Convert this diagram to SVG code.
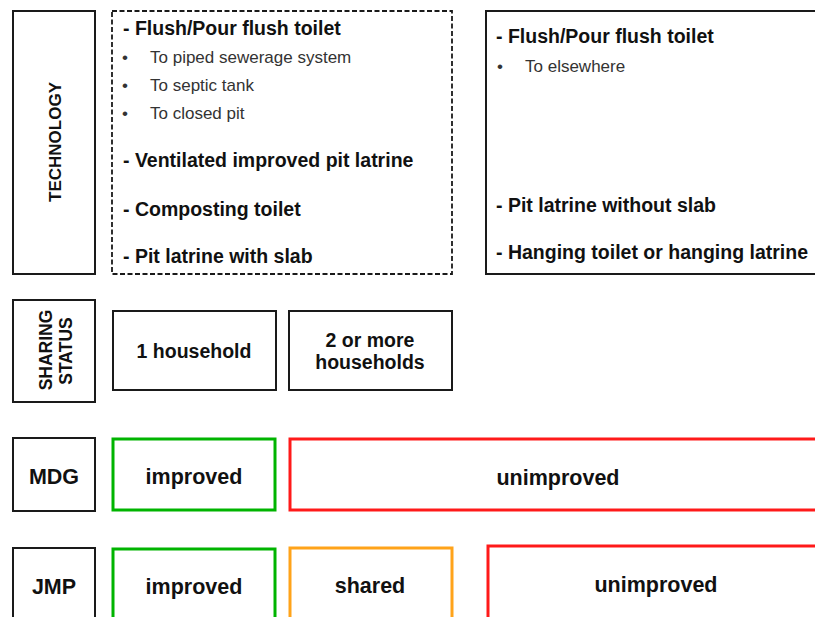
<svg xmlns="http://www.w3.org/2000/svg" width="815" height="617" viewBox="0 0 815 617">
<style>
.b{fill:none;stroke:#1a1a1a;stroke-width:2}
.d{fill:none;stroke:#1a1a1a;stroke-width:1.8;stroke-dasharray:5,2.5}
.g{fill:none;stroke:#00b400;stroke-width:3}
.r{fill:none;stroke:#ff1a1a;stroke-width:3}
.o{fill:none;stroke:#ffa31a;stroke-width:3}
text{font-family:"Liberation Sans",Arial,sans-serif;fill:#111}
.h{font-weight:bold;font-size:19.5px}
.s{font-size:17px;fill:#333}
.l{font-weight:bold;font-size:17px;text-anchor:middle}
.c{font-weight:bold;font-size:21.5px;text-anchor:middle}
.m{font-weight:bold;font-size:19.5px;text-anchor:middle}
</style>
<rect width="815" height="617" fill="#fff"/>
<g id="technology">
<rect class="b" x="13" y="11" width="82" height="263"/>
<text class="l" transform="translate(61,142) rotate(-90)">TECHNOLOGY</text>
</g>
<g id="improved-tech">
<rect class="d" x="112" y="11" width="340" height="263"/>
<text class="h" x="123" y="35">- Flush/Pour flush toilet</text>
<text class="s" x="122" y="63">•</text><text class="s" x="150" y="63">To piped sewerage system</text>
<text class="s" x="122" y="91">•</text><text class="s" x="150" y="91">To septic tank</text>
<text class="s" x="122" y="119">•</text><text class="s" x="150" y="119">To closed pit</text>
<text class="h" x="123" y="167">- Ventilated improved pit latrine</text>
<text class="h" x="123" y="216">- Composting toilet</text>
<text class="h" x="123" y="263">- Pit latrine with slab</text>
</g>
<g id="unimproved-tech">
<rect class="b" x="486" y="11" width="340" height="263"/>
<text class="h" x="496" y="43">- Flush/Pour flush toilet</text>
<text class="s" x="497" y="72">•</text><text class="s" x="525" y="72">To elsewhere</text>
<text class="h" x="496" y="212">- Pit latrine without slab</text>
<text class="h" x="496" y="259">- Hanging toilet or hanging latrine</text>
</g>
<g id="sharing">
<rect class="b" x="13" y="300" width="82" height="102"/>
<text class="l" transform="translate(52,350) rotate(-90)" style="font-size:17.5px">SHARING</text>
<text class="l" transform="translate(72,351) rotate(-90)" style="font-size:17.5px">STATUS</text>
</g>
<g id="one-household">
<rect class="b" x="113" y="311" width="163" height="79"/>
<text class="m" x="194" y="358">1 household</text>
</g>
<g id="more-households">
<rect class="b" x="289" y="311" width="163" height="79"/>
<text class="m" x="370" y="347">2 or more</text>
<text class="m" x="370" y="369">households</text>
</g>
<g id="mdg">
<rect class="b" x="13" y="438" width="82" height="73"/>
<text class="c" x="54" y="484">MDG</text>
</g>
<g id="mdg-improved">
<rect class="g" x="113" y="439" width="162" height="71"/>
<text class="c" x="194" y="484">improved</text>
</g>
<g id="mdg-unimproved">
<rect class="r" x="290" y="439" width="540" height="71"/>
<text class="c" x="558" y="485">unimproved</text>
</g>
<g id="jmp">
<rect class="b" x="13" y="548" width="82" height="80"/>
<text class="c" x="54" y="594">JMP</text>
</g>
<g id="jmp-improved">
<rect class="g" x="113" y="549" width="162" height="80"/>
<text class="c" x="194" y="594">improved</text>
</g>
<g id="jmp-shared">
<rect class="o" x="290" y="548" width="162" height="80"/>
<text class="c" x="370" y="593">shared</text>
</g>
<g id="jmp-unimproved">
<rect class="r" x="488" y="546" width="340" height="80"/>
<text class="c" x="656" y="592">unimproved</text>
</g>
<g id="connectors"/>
</svg>
